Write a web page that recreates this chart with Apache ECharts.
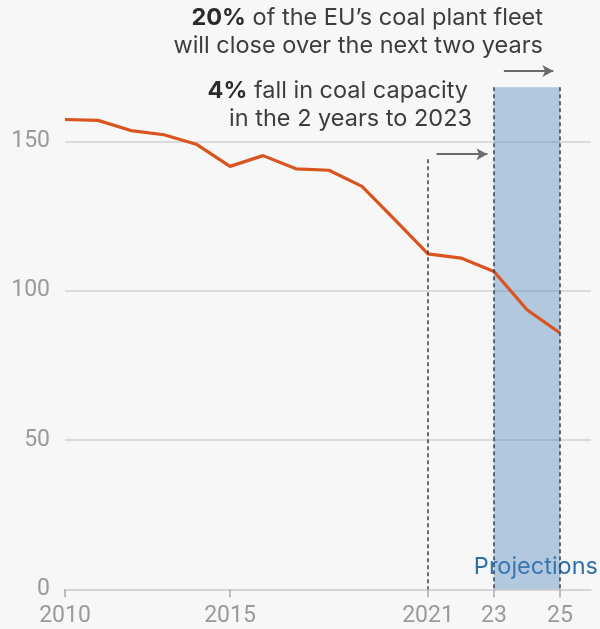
<!DOCTYPE html>
<html>
<head>
<meta charset="utf-8">
<script src="https://cdn.jsdelivr.net/npm/echarts@6/dist/echarts.min.js"></script>
<style>
html,body{margin:0;padding:0;background:#f7f7f7;}
#chart{width:600px;height:629px;}
</style>
</head>
<body>
<div id="chart"></div>
<script>
const years = [2010,2011,2012,2013,2014,2015,2016,2017,2018,2019,2020,2021,2022,2023,2024,2025];
const capacity = [157.3,157.0,153.6,152.2,148.9,141.6,145.2,140.8,140.3,134.9,123.7,112.3,110.9,106.4,93.6,85.8];
const xTickValues = [2010,2015,2021,2023,2025];
const xTickLabels = {2010:'2010',2015:'2015',2021:'2021',2023:'23',2025:'25'};
const yTicks = [0,50,100,150];
const projStart = 2023, projEnd = 2025, projTop = 168.1;
const markerYear = 2021, markerTop = 144;

const AXFONT = 'Roboto, sans-serif';
const FONT = 'Inter, Roboto, sans-serif';
const chart = echarts.init(document.getElementById('chart'));
chart.setOption({
  backgroundColor:'#f7f7f7',
  animation:false,
  grid:{left:65,right:9,top:51.7,bottom:39.7,containLabel:false,outerBoundsMode:'none'},
  xAxis:{
    type:'value', min:2010, max:2025.94,
    axisLine:{show:true,lineStyle:{color:'#cbcbcb',width:1.5}},
    axisTick:{show:true,length:8,customValues:xTickValues,lineStyle:{color:'#aaaaaa',width:1.5}},
    axisLabel:{customValues:xTickValues,formatter:v=>xTickLabels[v]||'',color:'#9a9a9a',fontSize:23,fontFamily:AXFONT,margin:15},
    splitLine:{show:false}
  },
  yAxis:{
    type:'value', min:0, max:180, interval:50,
    axisLine:{show:false}, axisTick:{show:false},
    axisLabel:{customValues:yTicks,color:'#9a9a9a',fontSize:23,fontFamily:AXFONT,margin:15},
    splitLine:{show:true,showMaxLine:false,showMinLine:false,lineStyle:{color:'#d2d2d2',width:1.5}}
  },
  series:[
    {
      type:'line', data:years.map((y,i)=>[y,capacity[i]]),
      symbol:'none', z:3,
      lineStyle:{color:'#d9541e',width:3.2}
    },
    {
      type:'line', data:[], z:10, silent:true,
      markArea:{silent:true,
        itemStyle:{color:'rgba(72,130,185,0.4)'},
        data:[[{coord:[projStart,0]},{coord:[projEnd,projTop]}]]
      },
      markLine:{silent:true,symbol:['none','none'],label:{show:false},
        lineStyle:{color:'#34404a',width:1.5,type:[4,3]},
        data:[
          [{coord:[markerYear,markerTop]},{coord:[markerYear,0]}],
          [{coord:[projStart,projTop]},{coord:[projStart,0]}],
          [{coord:[projEnd,projTop]},{coord:[projEnd,0]}]
        ]
      }
    },
    {
      type:'line', data:[], z:11, silent:true,
      markLine:{silent:true,symbol:['none','arrow'],symbolSize:[9,11],label:{show:false},
        lineStyle:{color:'#6b6b6b',width:2,type:'solid'},
        data:[
          [{coord:[2021.26,145.7]},{coord:[2022.8,145.7]}],
          [{coord:[2023.3,173.5]},{coord:[2024.8,173.5]}]
        ]
      }
    }
  ],
  graphic:[
    {type:'text',right:57,top:6,style:{text:'{b|20%} of the EU’s coal plant fleet',fill:'#3d3d3d',font:'23.5px '+FONT,
      rich:{b:{fontWeight:'bold',fontSize:23.5,fontFamily:FONT,fill:'#2a2a2a'}}}},
    {type:'text',right:57,top:34,style:{text:'will close over the next two years',fill:'#3d3d3d',font:'23.5px '+FONT}},
    {type:'text',right:132,top:79,style:{text:'{b|4%} fall in coal capacity',fill:'#3d3d3d',font:'23.5px '+FONT,
      rich:{b:{fontWeight:'bold',fontSize:23.5,fontFamily:FONT,fill:'#2a2a2a'}}}},
    {type:'text',right:128,top:107,style:{text:'in the 2 years to 2023',fill:'#3d3d3d',font:'23.5px '+FONT}},
    {type:'text',right:2,top:555,style:{text:'Projections',fill:'#2f6fa8',font:'23.5px '+FONT}}
  ]
});
</script>
</body>
</html>
